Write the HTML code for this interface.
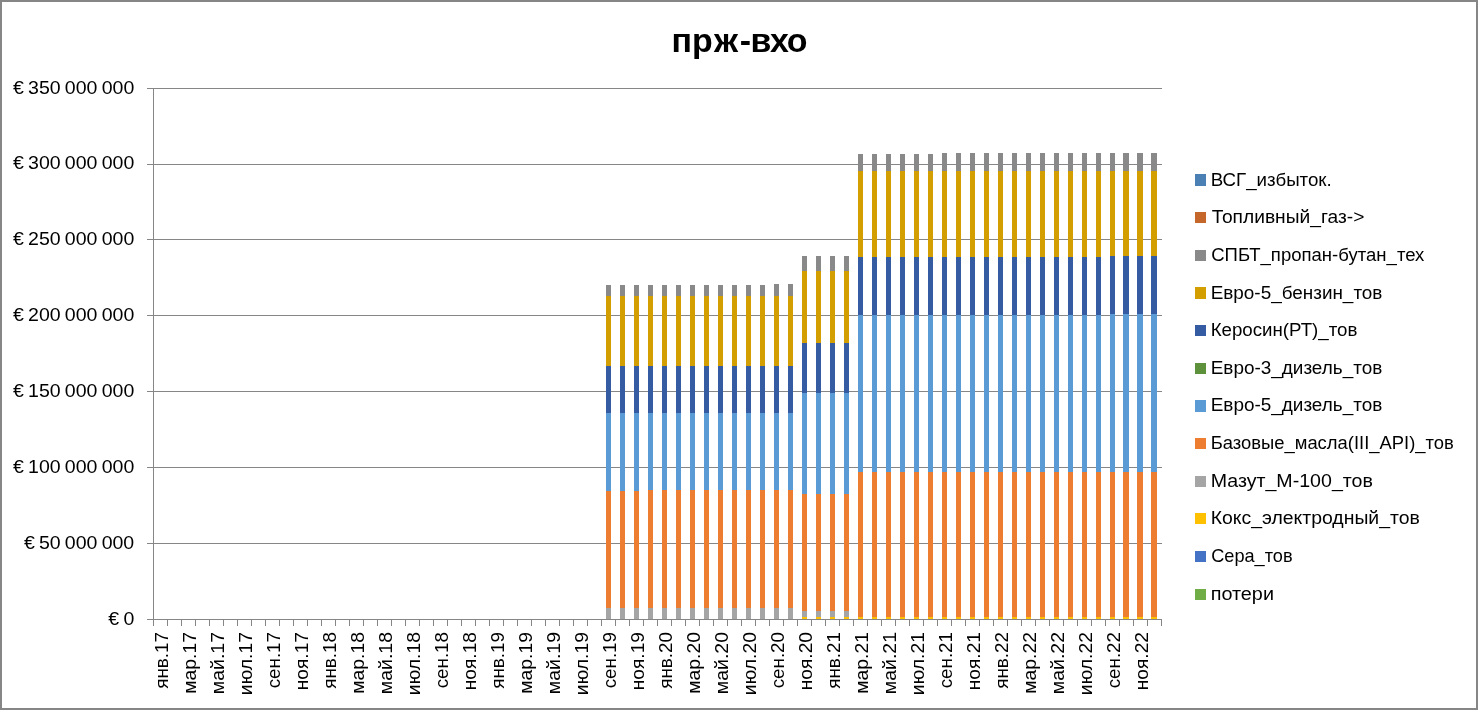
<!DOCTYPE html>
<html lang="ru"><head><meta charset="utf-8"><title>прж-вхо</title>
<style>html,body{margin:0;padding:0;background:#fff;}body{width:1478px;height:710px;overflow:hidden;}svg{display:block;will-change:transform;}text{font-family:"Liberation Sans",sans-serif;fill:#000;}.yl{font-size:18.9px;word-spacing:-1.2px;}.lg{font-size:18.3px;}.xl{font-size:18.67px;}.tt{font-size:33px;font-weight:bold;}</style></head><body>
<svg width="1478" height="710" viewBox="0 0 1478 710">
<rect x="0" y="0" width="1478" height="710" fill="#fff"/>
<g shape-rendering="crispEdges" fill="#868686">
<rect x="0" y="0" width="1478" height="2"/><rect x="0" y="708" width="1478" height="2"/>
<rect x="0" y="0" width="2" height="710"/><rect x="1476" y="0" width="2" height="710"/>
<rect x="147" y="88" width="1015" height="1"/>
<rect x="147" y="164" width="1015" height="1"/>
<rect x="147" y="239" width="1015" height="1"/>
<rect x="147" y="315" width="1015" height="1"/>
<rect x="147" y="391" width="1015" height="1"/>
<rect x="147" y="467" width="1015" height="1"/>
<rect x="147" y="543" width="1015" height="1"/>
<rect x="147" y="619" width="1015" height="1"/>
<rect x="153" y="88" width="1" height="532"/>
<rect x="153" y="620" width="1" height="6"/>
<rect x="167" y="620" width="1" height="6"/>
<rect x="181" y="620" width="1" height="6"/>
<rect x="195" y="620" width="1" height="6"/>
<rect x="209" y="620" width="1" height="6"/>
<rect x="223" y="620" width="1" height="6"/>
<rect x="237" y="620" width="1" height="6"/>
<rect x="251" y="620" width="1" height="6"/>
<rect x="265" y="620" width="1" height="6"/>
<rect x="279" y="620" width="1" height="6"/>
<rect x="293" y="620" width="1" height="6"/>
<rect x="307" y="620" width="1" height="6"/>
<rect x="321" y="620" width="1" height="6"/>
<rect x="335" y="620" width="1" height="6"/>
<rect x="349" y="620" width="1" height="6"/>
<rect x="363" y="620" width="1" height="6"/>
<rect x="377" y="620" width="1" height="6"/>
<rect x="391" y="620" width="1" height="6"/>
<rect x="405" y="620" width="1" height="6"/>
<rect x="419" y="620" width="1" height="6"/>
<rect x="433" y="620" width="1" height="6"/>
<rect x="447" y="620" width="1" height="6"/>
<rect x="461" y="620" width="1" height="6"/>
<rect x="475" y="620" width="1" height="6"/>
<rect x="489" y="620" width="1" height="6"/>
<rect x="503" y="620" width="1" height="6"/>
<rect x="517" y="620" width="1" height="6"/>
<rect x="531" y="620" width="1" height="6"/>
<rect x="545" y="620" width="1" height="6"/>
<rect x="559" y="620" width="1" height="6"/>
<rect x="573" y="620" width="1" height="6"/>
<rect x="587" y="620" width="1" height="6"/>
<rect x="601" y="620" width="1" height="6"/>
<rect x="615" y="620" width="1" height="6"/>
<rect x="629" y="620" width="1" height="6"/>
<rect x="643" y="620" width="1" height="6"/>
<rect x="657" y="620" width="1" height="6"/>
<rect x="671" y="620" width="1" height="6"/>
<rect x="685" y="620" width="1" height="6"/>
<rect x="699" y="620" width="1" height="6"/>
<rect x="713" y="620" width="1" height="6"/>
<rect x="727" y="620" width="1" height="6"/>
<rect x="741" y="620" width="1" height="6"/>
<rect x="755" y="620" width="1" height="6"/>
<rect x="769" y="620" width="1" height="6"/>
<rect x="783" y="620" width="1" height="6"/>
<rect x="797" y="620" width="1" height="6"/>
<rect x="811" y="620" width="1" height="6"/>
<rect x="825" y="620" width="1" height="6"/>
<rect x="839" y="620" width="1" height="6"/>
<rect x="853" y="620" width="1" height="6"/>
<rect x="867" y="620" width="1" height="6"/>
<rect x="881" y="620" width="1" height="6"/>
<rect x="895" y="620" width="1" height="6"/>
<rect x="909" y="620" width="1" height="6"/>
<rect x="923" y="620" width="1" height="6"/>
<rect x="937" y="620" width="1" height="6"/>
<rect x="951" y="620" width="1" height="6"/>
<rect x="965" y="620" width="1" height="6"/>
<rect x="979" y="620" width="1" height="6"/>
<rect x="993" y="620" width="1" height="6"/>
<rect x="1007" y="620" width="1" height="6"/>
<rect x="1021" y="620" width="1" height="6"/>
<rect x="1035" y="620" width="1" height="6"/>
<rect x="1049" y="620" width="1" height="6"/>
<rect x="1063" y="620" width="1" height="6"/>
<rect x="1077" y="620" width="1" height="6"/>
<rect x="1091" y="620" width="1" height="6"/>
<rect x="1105" y="620" width="1" height="6"/>
<rect x="1119" y="620" width="1" height="6"/>
<rect x="1133" y="620" width="1" height="6"/>
<rect x="1147" y="620" width="1" height="6"/>
<rect x="1161" y="620" width="1" height="6"/>
</g>
<g shape-rendering="crispEdges">
<rect x="606" y="608" width="5" height="11" fill="#A5A5A5"/>
<rect x="606" y="491" width="5" height="117" fill="#ED7D31"/>
<rect x="606" y="413" width="5" height="78" fill="#5B9BD5"/>
<rect x="606" y="366" width="5" height="47" fill="#355CA3"/>
<rect x="606" y="296" width="5" height="70" fill="#D29E00"/>
<rect x="606" y="285" width="5" height="11" fill="#898989"/>
<rect x="620" y="608" width="5" height="11" fill="#A5A5A5"/>
<rect x="620" y="491" width="5" height="117" fill="#ED7D31"/>
<rect x="620" y="413" width="5" height="78" fill="#5B9BD5"/>
<rect x="620" y="366" width="5" height="47" fill="#355CA3"/>
<rect x="620" y="296" width="5" height="70" fill="#D29E00"/>
<rect x="620" y="285" width="5" height="11" fill="#898989"/>
<rect x="634" y="608" width="5" height="11" fill="#A5A5A5"/>
<rect x="634" y="491" width="5" height="117" fill="#ED7D31"/>
<rect x="634" y="413" width="5" height="78" fill="#5B9BD5"/>
<rect x="634" y="366" width="5" height="47" fill="#355CA3"/>
<rect x="634" y="296" width="5" height="70" fill="#D29E00"/>
<rect x="634" y="285" width="5" height="11" fill="#898989"/>
<rect x="648" y="608" width="5" height="11" fill="#A5A5A5"/>
<rect x="648" y="490" width="5" height="118" fill="#ED7D31"/>
<rect x="648" y="413" width="5" height="77" fill="#5B9BD5"/>
<rect x="648" y="366" width="5" height="47" fill="#355CA3"/>
<rect x="648" y="296" width="5" height="70" fill="#D29E00"/>
<rect x="648" y="285" width="5" height="11" fill="#898989"/>
<rect x="662" y="608" width="5" height="11" fill="#A5A5A5"/>
<rect x="662" y="490" width="5" height="118" fill="#ED7D31"/>
<rect x="662" y="413" width="5" height="77" fill="#5B9BD5"/>
<rect x="662" y="366" width="5" height="47" fill="#355CA3"/>
<rect x="662" y="296" width="5" height="70" fill="#D29E00"/>
<rect x="662" y="285" width="5" height="11" fill="#898989"/>
<rect x="676" y="608" width="5" height="11" fill="#A5A5A5"/>
<rect x="676" y="490" width="5" height="118" fill="#ED7D31"/>
<rect x="676" y="413" width="5" height="77" fill="#5B9BD5"/>
<rect x="676" y="366" width="5" height="47" fill="#355CA3"/>
<rect x="676" y="296" width="5" height="70" fill="#D29E00"/>
<rect x="676" y="285" width="5" height="11" fill="#898989"/>
<rect x="690" y="608" width="5" height="11" fill="#A5A5A5"/>
<rect x="690" y="490" width="5" height="118" fill="#ED7D31"/>
<rect x="690" y="413" width="5" height="77" fill="#5B9BD5"/>
<rect x="690" y="366" width="5" height="47" fill="#355CA3"/>
<rect x="690" y="296" width="5" height="70" fill="#D29E00"/>
<rect x="690" y="285" width="5" height="11" fill="#898989"/>
<rect x="704" y="608" width="5" height="11" fill="#A5A5A5"/>
<rect x="704" y="490" width="5" height="118" fill="#ED7D31"/>
<rect x="704" y="413" width="5" height="77" fill="#5B9BD5"/>
<rect x="704" y="366" width="5" height="47" fill="#355CA3"/>
<rect x="704" y="296" width="5" height="70" fill="#D29E00"/>
<rect x="704" y="285" width="5" height="11" fill="#898989"/>
<rect x="718" y="608" width="5" height="11" fill="#A5A5A5"/>
<rect x="718" y="490" width="5" height="118" fill="#ED7D31"/>
<rect x="718" y="413" width="5" height="77" fill="#5B9BD5"/>
<rect x="718" y="366" width="5" height="47" fill="#355CA3"/>
<rect x="718" y="296" width="5" height="70" fill="#D29E00"/>
<rect x="718" y="285" width="5" height="11" fill="#898989"/>
<rect x="732" y="608" width="5" height="11" fill="#A5A5A5"/>
<rect x="732" y="490" width="5" height="118" fill="#ED7D31"/>
<rect x="732" y="413" width="5" height="77" fill="#5B9BD5"/>
<rect x="732" y="366" width="5" height="47" fill="#355CA3"/>
<rect x="732" y="296" width="5" height="70" fill="#D29E00"/>
<rect x="732" y="285" width="5" height="11" fill="#898989"/>
<rect x="746" y="608" width="5" height="11" fill="#A5A5A5"/>
<rect x="746" y="490" width="5" height="118" fill="#ED7D31"/>
<rect x="746" y="413" width="5" height="77" fill="#5B9BD5"/>
<rect x="746" y="366" width="5" height="47" fill="#355CA3"/>
<rect x="746" y="296" width="5" height="70" fill="#D29E00"/>
<rect x="746" y="285" width="5" height="11" fill="#898989"/>
<rect x="760" y="608" width="5" height="11" fill="#A5A5A5"/>
<rect x="760" y="490" width="5" height="118" fill="#ED7D31"/>
<rect x="760" y="413" width="5" height="77" fill="#5B9BD5"/>
<rect x="760" y="366" width="5" height="47" fill="#355CA3"/>
<rect x="760" y="296" width="5" height="70" fill="#D29E00"/>
<rect x="760" y="285" width="5" height="11" fill="#898989"/>
<rect x="774" y="608" width="5" height="11" fill="#A5A5A5"/>
<rect x="774" y="490" width="5" height="118" fill="#ED7D31"/>
<rect x="774" y="413" width="5" height="77" fill="#5B9BD5"/>
<rect x="774" y="366" width="5" height="47" fill="#355CA3"/>
<rect x="774" y="296" width="5" height="70" fill="#D29E00"/>
<rect x="774" y="284" width="5" height="12" fill="#898989"/>
<rect x="788" y="608" width="5" height="11" fill="#A5A5A5"/>
<rect x="788" y="490" width="5" height="118" fill="#ED7D31"/>
<rect x="788" y="413" width="5" height="77" fill="#5B9BD5"/>
<rect x="788" y="366" width="5" height="47" fill="#355CA3"/>
<rect x="788" y="296" width="5" height="70" fill="#D29E00"/>
<rect x="788" y="284" width="5" height="12" fill="#898989"/>
<rect x="802" y="617" width="5" height="2" fill="#FFC000"/>
<rect x="802" y="611" width="5" height="6" fill="#A5A5A5"/>
<rect x="802" y="494" width="5" height="117" fill="#ED7D31"/>
<rect x="802" y="393" width="5" height="101" fill="#5B9BD5"/>
<rect x="802" y="343" width="5" height="50" fill="#355CA3"/>
<rect x="802" y="271" width="5" height="72" fill="#D29E00"/>
<rect x="802" y="256" width="5" height="15" fill="#898989"/>
<rect x="816" y="617" width="5" height="2" fill="#FFC000"/>
<rect x="816" y="611" width="5" height="6" fill="#A5A5A5"/>
<rect x="816" y="494" width="5" height="117" fill="#ED7D31"/>
<rect x="816" y="393" width="5" height="101" fill="#5B9BD5"/>
<rect x="816" y="343" width="5" height="50" fill="#355CA3"/>
<rect x="816" y="271" width="5" height="72" fill="#D29E00"/>
<rect x="816" y="256" width="5" height="15" fill="#898989"/>
<rect x="830" y="617" width="5" height="2" fill="#FFC000"/>
<rect x="830" y="611" width="5" height="6" fill="#A5A5A5"/>
<rect x="830" y="494" width="5" height="117" fill="#ED7D31"/>
<rect x="830" y="393" width="5" height="101" fill="#5B9BD5"/>
<rect x="830" y="343" width="5" height="50" fill="#355CA3"/>
<rect x="830" y="271" width="5" height="72" fill="#D29E00"/>
<rect x="830" y="256" width="5" height="15" fill="#898989"/>
<rect x="844" y="617" width="5" height="2" fill="#FFC000"/>
<rect x="844" y="611" width="5" height="6" fill="#A5A5A5"/>
<rect x="844" y="494" width="5" height="117" fill="#ED7D31"/>
<rect x="844" y="393" width="5" height="101" fill="#5B9BD5"/>
<rect x="844" y="343" width="5" height="50" fill="#355CA3"/>
<rect x="844" y="271" width="5" height="72" fill="#D29E00"/>
<rect x="844" y="256" width="5" height="15" fill="#898989"/>
<rect x="858" y="617" width="5" height="2" fill="#FFC000"/>
<rect x="858" y="472" width="5" height="145" fill="#ED7D31"/>
<rect x="858" y="315" width="5" height="157" fill="#5B9BD5"/>
<rect x="858" y="257" width="5" height="58" fill="#355CA3"/>
<rect x="858" y="171" width="5" height="86" fill="#D29E00"/>
<rect x="858" y="154" width="5" height="17" fill="#898989"/>
<rect x="872" y="617" width="5" height="2" fill="#FFC000"/>
<rect x="872" y="472" width="5" height="145" fill="#ED7D31"/>
<rect x="872" y="315" width="5" height="157" fill="#5B9BD5"/>
<rect x="872" y="257" width="5" height="58" fill="#355CA3"/>
<rect x="872" y="171" width="5" height="86" fill="#D29E00"/>
<rect x="872" y="154" width="5" height="17" fill="#898989"/>
<rect x="886" y="617" width="5" height="2" fill="#FFC000"/>
<rect x="886" y="472" width="5" height="145" fill="#ED7D31"/>
<rect x="886" y="315" width="5" height="157" fill="#5B9BD5"/>
<rect x="886" y="257" width="5" height="58" fill="#355CA3"/>
<rect x="886" y="171" width="5" height="86" fill="#D29E00"/>
<rect x="886" y="154" width="5" height="17" fill="#898989"/>
<rect x="900" y="617" width="5" height="2" fill="#FFC000"/>
<rect x="900" y="472" width="5" height="145" fill="#ED7D31"/>
<rect x="900" y="315" width="5" height="157" fill="#5B9BD5"/>
<rect x="900" y="257" width="5" height="58" fill="#355CA3"/>
<rect x="900" y="171" width="5" height="86" fill="#D29E00"/>
<rect x="900" y="154" width="5" height="17" fill="#898989"/>
<rect x="914" y="617" width="5" height="2" fill="#FFC000"/>
<rect x="914" y="472" width="5" height="145" fill="#ED7D31"/>
<rect x="914" y="315" width="5" height="157" fill="#5B9BD5"/>
<rect x="914" y="257" width="5" height="58" fill="#355CA3"/>
<rect x="914" y="171" width="5" height="86" fill="#D29E00"/>
<rect x="914" y="154" width="5" height="17" fill="#898989"/>
<rect x="928" y="617" width="5" height="2" fill="#FFC000"/>
<rect x="928" y="472" width="5" height="145" fill="#ED7D31"/>
<rect x="928" y="315" width="5" height="157" fill="#5B9BD5"/>
<rect x="928" y="257" width="5" height="58" fill="#355CA3"/>
<rect x="928" y="171" width="5" height="86" fill="#D29E00"/>
<rect x="928" y="154" width="5" height="17" fill="#898989"/>
<rect x="942" y="617" width="5" height="2" fill="#FFC000"/>
<rect x="942" y="472" width="5" height="145" fill="#ED7D31"/>
<rect x="942" y="315" width="5" height="157" fill="#5B9BD5"/>
<rect x="942" y="257" width="5" height="58" fill="#355CA3"/>
<rect x="942" y="171" width="5" height="86" fill="#D29E00"/>
<rect x="942" y="153" width="5" height="18" fill="#898989"/>
<rect x="956" y="617" width="5" height="2" fill="#FFC000"/>
<rect x="956" y="472" width="5" height="145" fill="#ED7D31"/>
<rect x="956" y="315" width="5" height="157" fill="#5B9BD5"/>
<rect x="956" y="257" width="5" height="58" fill="#355CA3"/>
<rect x="956" y="171" width="5" height="86" fill="#D29E00"/>
<rect x="956" y="153" width="5" height="18" fill="#898989"/>
<rect x="970" y="617" width="5" height="2" fill="#FFC000"/>
<rect x="970" y="472" width="5" height="145" fill="#ED7D31"/>
<rect x="970" y="315" width="5" height="157" fill="#5B9BD5"/>
<rect x="970" y="257" width="5" height="58" fill="#355CA3"/>
<rect x="970" y="171" width="5" height="86" fill="#D29E00"/>
<rect x="970" y="153" width="5" height="18" fill="#898989"/>
<rect x="984" y="617" width="5" height="2" fill="#FFC000"/>
<rect x="984" y="472" width="5" height="145" fill="#ED7D31"/>
<rect x="984" y="315" width="5" height="157" fill="#5B9BD5"/>
<rect x="984" y="257" width="5" height="58" fill="#355CA3"/>
<rect x="984" y="171" width="5" height="86" fill="#D29E00"/>
<rect x="984" y="153" width="5" height="18" fill="#898989"/>
<rect x="998" y="617" width="5" height="2" fill="#FFC000"/>
<rect x="998" y="472" width="5" height="145" fill="#ED7D31"/>
<rect x="998" y="315" width="5" height="157" fill="#5B9BD5"/>
<rect x="998" y="257" width="5" height="58" fill="#355CA3"/>
<rect x="998" y="171" width="5" height="86" fill="#D29E00"/>
<rect x="998" y="153" width="5" height="18" fill="#898989"/>
<rect x="1012" y="617" width="5" height="2" fill="#FFC000"/>
<rect x="1012" y="472" width="5" height="145" fill="#ED7D31"/>
<rect x="1012" y="315" width="5" height="157" fill="#5B9BD5"/>
<rect x="1012" y="257" width="5" height="58" fill="#355CA3"/>
<rect x="1012" y="171" width="5" height="86" fill="#D29E00"/>
<rect x="1012" y="153" width="5" height="18" fill="#898989"/>
<rect x="1026" y="617" width="5" height="2" fill="#FFC000"/>
<rect x="1026" y="472" width="5" height="145" fill="#ED7D31"/>
<rect x="1026" y="315" width="5" height="157" fill="#5B9BD5"/>
<rect x="1026" y="257" width="5" height="58" fill="#355CA3"/>
<rect x="1026" y="171" width="5" height="86" fill="#D29E00"/>
<rect x="1026" y="153" width="5" height="18" fill="#898989"/>
<rect x="1040" y="617" width="5" height="2" fill="#FFC000"/>
<rect x="1040" y="472" width="5" height="145" fill="#ED7D31"/>
<rect x="1040" y="315" width="5" height="157" fill="#5B9BD5"/>
<rect x="1040" y="257" width="5" height="58" fill="#355CA3"/>
<rect x="1040" y="171" width="5" height="86" fill="#D29E00"/>
<rect x="1040" y="153" width="5" height="18" fill="#898989"/>
<rect x="1054" y="617" width="5" height="2" fill="#FFC000"/>
<rect x="1054" y="472" width="5" height="145" fill="#ED7D31"/>
<rect x="1054" y="315" width="5" height="157" fill="#5B9BD5"/>
<rect x="1054" y="257" width="5" height="58" fill="#355CA3"/>
<rect x="1054" y="171" width="5" height="86" fill="#D29E00"/>
<rect x="1054" y="153" width="5" height="18" fill="#898989"/>
<rect x="1068" y="617" width="5" height="2" fill="#FFC000"/>
<rect x="1068" y="472" width="5" height="145" fill="#ED7D31"/>
<rect x="1068" y="315" width="5" height="157" fill="#5B9BD5"/>
<rect x="1068" y="257" width="5" height="58" fill="#355CA3"/>
<rect x="1068" y="171" width="5" height="86" fill="#D29E00"/>
<rect x="1068" y="153" width="5" height="18" fill="#898989"/>
<rect x="1082" y="617" width="5" height="2" fill="#FFC000"/>
<rect x="1082" y="472" width="5" height="145" fill="#ED7D31"/>
<rect x="1082" y="315" width="5" height="157" fill="#5B9BD5"/>
<rect x="1082" y="257" width="5" height="58" fill="#355CA3"/>
<rect x="1082" y="171" width="5" height="86" fill="#D29E00"/>
<rect x="1082" y="153" width="5" height="18" fill="#898989"/>
<rect x="1096" y="617" width="5" height="2" fill="#FFC000"/>
<rect x="1096" y="472" width="5" height="145" fill="#ED7D31"/>
<rect x="1096" y="315" width="5" height="157" fill="#5B9BD5"/>
<rect x="1096" y="257" width="5" height="58" fill="#355CA3"/>
<rect x="1096" y="171" width="5" height="86" fill="#D29E00"/>
<rect x="1096" y="153" width="5" height="18" fill="#898989"/>
<rect x="1110" y="617" width="5" height="2" fill="#FFC000"/>
<rect x="1110" y="472" width="5" height="145" fill="#ED7D31"/>
<rect x="1110" y="314" width="5" height="158" fill="#5B9BD5"/>
<rect x="1110" y="256" width="5" height="58" fill="#355CA3"/>
<rect x="1110" y="171" width="5" height="85" fill="#D29E00"/>
<rect x="1110" y="153" width="5" height="18" fill="#898989"/>
<rect x="1123" y="617" width="6" height="2" fill="#FFC000"/>
<rect x="1123" y="472" width="6" height="145" fill="#ED7D31"/>
<rect x="1123" y="314" width="6" height="158" fill="#5B9BD5"/>
<rect x="1123" y="256" width="6" height="58" fill="#355CA3"/>
<rect x="1123" y="171" width="6" height="85" fill="#D29E00"/>
<rect x="1123" y="153" width="6" height="18" fill="#898989"/>
<rect x="1137" y="617" width="6" height="2" fill="#FFC000"/>
<rect x="1137" y="472" width="6" height="145" fill="#ED7D31"/>
<rect x="1137" y="314" width="6" height="158" fill="#5B9BD5"/>
<rect x="1137" y="256" width="6" height="58" fill="#355CA3"/>
<rect x="1137" y="171" width="6" height="85" fill="#D29E00"/>
<rect x="1137" y="153" width="6" height="18" fill="#898989"/>
<rect x="1151" y="617" width="6" height="2" fill="#FFC000"/>
<rect x="1151" y="472" width="6" height="145" fill="#ED7D31"/>
<rect x="1151" y="314" width="6" height="158" fill="#5B9BD5"/>
<rect x="1151" y="256" width="6" height="58" fill="#355CA3"/>
<rect x="1151" y="171" width="6" height="85" fill="#D29E00"/>
<rect x="1151" y="153" width="6" height="18" fill="#898989"/>
</g>
<rect x="147" y="619" width="1015" height="1" fill="#868686" shape-rendering="crispEdges"/>
<text class="tt" transform="translate(739.5,52.4) scale(1.0285,1)" text-anchor="middle" dx="0 0 1.75 1.65 -0.5 -1.3 -1.3">прж-вхо</text>
<text class="yl" transform="translate(134.25,93.50) scale(1.0341,1)" text-anchor="end">€ 350 000 000</text>
<text class="yl" transform="translate(134.25,169.36) scale(1.0341,1)" text-anchor="end">€ 300 000 000</text>
<text class="yl" transform="translate(134.25,245.21) scale(1.0341,1)" text-anchor="end">€ 250 000 000</text>
<text class="yl" transform="translate(134.25,321.07) scale(1.0341,1)" text-anchor="end">€ 200 000 000</text>
<text class="yl" transform="translate(134.25,396.93) scale(1.0341,1)" text-anchor="end">€ 150 000 000</text>
<text class="yl" transform="translate(134.25,472.78) scale(1.0341,1)" text-anchor="end">€ 100 000 000</text>
<text class="yl" transform="translate(134.25,548.64) scale(1.0341,1)" text-anchor="end">€ 50 000 000</text>
<text class="yl" transform="translate(134.25,624.50) scale(1.0341,1)" text-anchor="end">€ 0</text>
<text class="xl" transform="translate(168,632) rotate(-90) scale(1.009,1)" text-anchor="end">янв.17</text>
<text class="xl" transform="translate(196,632) rotate(-90) scale(1.0375,1)" text-anchor="end">мар.17</text>
<text class="xl" transform="translate(224,632) rotate(-90) scale(1.043,1)" text-anchor="end">май.17</text>
<text class="xl" transform="translate(252,632) rotate(-90) scale(1.0376,1)" text-anchor="end">июл.17</text>
<text class="xl" transform="translate(280,632) rotate(-90) scale(1.007,1)" text-anchor="end">сен.17</text>
<text class="xl" transform="translate(308,632) rotate(-90) scale(1.0275,1)" text-anchor="end">ноя.17</text>
<text class="xl" transform="translate(336,632) rotate(-90) scale(1.009,1)" text-anchor="end">янв.18</text>
<text class="xl" transform="translate(364,632) rotate(-90) scale(1.0375,1)" text-anchor="end">мар.18</text>
<text class="xl" transform="translate(392,632) rotate(-90) scale(1.043,1)" text-anchor="end">май.18</text>
<text class="xl" transform="translate(420,632) rotate(-90) scale(1.0376,1)" text-anchor="end">июл.18</text>
<text class="xl" transform="translate(448,632) rotate(-90) scale(1.007,1)" text-anchor="end">сен.18</text>
<text class="xl" transform="translate(476,632) rotate(-90) scale(1.0275,1)" text-anchor="end">ноя.18</text>
<text class="xl" transform="translate(504,632) rotate(-90) scale(1.009,1)" text-anchor="end">янв.19</text>
<text class="xl" transform="translate(532,632) rotate(-90) scale(1.0375,1)" text-anchor="end">мар.19</text>
<text class="xl" transform="translate(560,632) rotate(-90) scale(1.043,1)" text-anchor="end">май.19</text>
<text class="xl" transform="translate(588,632) rotate(-90) scale(1.0376,1)" text-anchor="end">июл.19</text>
<text class="xl" transform="translate(616,632) rotate(-90) scale(1.007,1)" text-anchor="end">сен.19</text>
<text class="xl" transform="translate(644,632) rotate(-90) scale(1.0275,1)" text-anchor="end">ноя.19</text>
<text class="xl" transform="translate(672,632) rotate(-90) scale(1.009,1)" text-anchor="end">янв.20</text>
<text class="xl" transform="translate(700,632) rotate(-90) scale(1.0375,1)" text-anchor="end">мар.20</text>
<text class="xl" transform="translate(728,632) rotate(-90) scale(1.043,1)" text-anchor="end">май.20</text>
<text class="xl" transform="translate(756,632) rotate(-90) scale(1.0376,1)" text-anchor="end">июл.20</text>
<text class="xl" transform="translate(784,632) rotate(-90) scale(1.007,1)" text-anchor="end">сен.20</text>
<text class="xl" transform="translate(812,632) rotate(-90) scale(1.0275,1)" text-anchor="end">ноя.20</text>
<text class="xl" transform="translate(840,632) rotate(-90) scale(1.009,1)" text-anchor="end">янв.21</text>
<text class="xl" transform="translate(868,632) rotate(-90) scale(1.0375,1)" text-anchor="end">мар.21</text>
<text class="xl" transform="translate(896,632) rotate(-90) scale(1.043,1)" text-anchor="end">май.21</text>
<text class="xl" transform="translate(924,632) rotate(-90) scale(1.0376,1)" text-anchor="end">июл.21</text>
<text class="xl" transform="translate(952,632) rotate(-90) scale(1.007,1)" text-anchor="end">сен.21</text>
<text class="xl" transform="translate(980,632) rotate(-90) scale(1.0275,1)" text-anchor="end">ноя.21</text>
<text class="xl" transform="translate(1008,632) rotate(-90) scale(1.009,1)" text-anchor="end">янв.22</text>
<text class="xl" transform="translate(1036,632) rotate(-90) scale(1.0375,1)" text-anchor="end">мар.22</text>
<text class="xl" transform="translate(1064,632) rotate(-90) scale(1.043,1)" text-anchor="end">май.22</text>
<text class="xl" transform="translate(1092,632) rotate(-90) scale(1.0376,1)" text-anchor="end">июл.22</text>
<text class="xl" transform="translate(1120,632) rotate(-90) scale(1.007,1)" text-anchor="end">сен.22</text>
<text class="xl" transform="translate(1148,632) rotate(-90) scale(1.0275,1)" text-anchor="end">ноя.22</text>
<rect x="1195" y="174" width="11" height="12" fill="#4B80B4" shape-rendering="crispEdges"/>
<text class="lg" transform="translate(1210.7,185.70) scale(1.0232,1)">ВСГ_избыток.</text>
<rect x="1195" y="212" width="11" height="11" fill="#C5672A" shape-rendering="crispEdges"/>
<text class="lg" transform="translate(1211.7,223.33) scale(1.0495,1)">Топливный_газ-&gt;</text>
<rect x="1195" y="250" width="11" height="11" fill="#898989" shape-rendering="crispEdges"/>
<text class="lg" transform="translate(1211.2,260.96) scale(1.0141,1)">СПБТ_пропан-бутан_тех</text>
<rect x="1195" y="287" width="11" height="12" fill="#D29E00" shape-rendering="crispEdges"/>
<text class="lg" transform="translate(1210.7,298.59) scale(1.0332,1)">Евро-5_бензин_тов</text>
<rect x="1195" y="325" width="11" height="11" fill="#355CA3" shape-rendering="crispEdges"/>
<text class="lg" transform="translate(1210.7,336.22) scale(1.0216,1)">Керосин(РТ)_тов</text>
<rect x="1195" y="363" width="11" height="11" fill="#5E913B" shape-rendering="crispEdges"/>
<text class="lg" transform="translate(1210.7,373.85) scale(1.035,1)">Евро-3_дизель_тов</text>
<rect x="1195" y="400" width="11" height="12" fill="#5B9BD5" shape-rendering="crispEdges"/>
<text class="lg" transform="translate(1210.7,411.48) scale(1.035,1)">Евро-5_дизель_тов</text>
<rect x="1195" y="438" width="11" height="11" fill="#ED7D31" shape-rendering="crispEdges"/>
<text class="lg" transform="translate(1210.7,449.11) scale(1.0063,1)">Базовые_масла(III_API)_тов</text>
<rect x="1195" y="476" width="11" height="11" fill="#A5A5A5" shape-rendering="crispEdges"/>
<text class="lg" transform="translate(1210.7,486.74) scale(1.0716,1)">Мазут_М-100_тов</text>
<rect x="1195" y="513" width="11" height="11" fill="#FFC000" shape-rendering="crispEdges"/>
<text class="lg" transform="translate(1210.7,524.37) scale(1.0608,1)">Кокс_электродный_тов</text>
<rect x="1195" y="551" width="11" height="11" fill="#4472C4" shape-rendering="crispEdges"/>
<text class="lg" transform="translate(1211.2,562.00) scale(0.9928,1)">Сера_тов</text>
<rect x="1195" y="589" width="11" height="11" fill="#70AD47" shape-rendering="crispEdges"/>
<text class="lg" transform="translate(1210.7,599.63) scale(1.083,1)">потери</text>
</svg></body></html>
